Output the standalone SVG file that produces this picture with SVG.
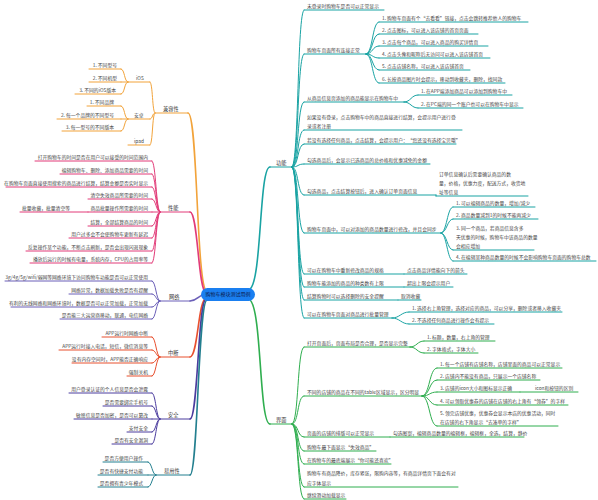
<svg xmlns="http://www.w3.org/2000/svg" width="598" height="500" viewBox="0 0 598 500">
<style>
text{font-family:"Noto Sans CJK SC","Noto Sans",sans-serif;font-size:4.8px;fill:#444}
.r{text-anchor:end}
.L{font-size:5.2px;fill:#333}
.ct{font-size:5px;fill:#0d1b4c;text-anchor:middle}
path{fill:none;stroke-width:1;stroke-linecap:round}
.m{stroke-width:1.6}
.gn{stroke:#19a3a3}
.jm{stroke:#2fae4f}
.jr{stroke:#f2a33a}
.xn{stroke:#e23b78}
.wl{stroke:#6b5fb8}
.zd{stroke:#e8502f}
.aq{stroke:#4b3c9e}
.yy{stroke:#237f8f}
</style>
<rect width="598" height="500" fill="#fff"/>

<g id="connectors">
  <!-- center to main branches -->
  <path class="gn m" d="M250,289 C262,280 259,167 270,167"/>
  <path class="jm m" d="M250,300 C262,310 259,424 270,424"/>
  <path class="jr m" d="M188,113 C198,113 196,288 207,292"/>
  <path class="xn m" d="M190,212 C198,212 198,290 206,293"/>
  <path class="wl m" d="M190,301 C197,301 198,296 203,295"/>
  <path class="zd m" d="M190,357 C198,357 198,300 206,298"/>
  <path class="aq m" d="M190,419 C198,419 198,300 206,299"/>
  <path class="yy m" d="M190,475 C198,475 198,301 207,300"/>
  <!-- 功能 trunk -->
  <path class="gn" d="M292,167 C299,167 297,10 304,10"/>
  <path class="gn" d="M292,167 C299,167 297,54 304,54"/>
  <path class="gn" d="M292,167 C299,167 297,102 304,102"/>
  <path class="gn" d="M292,167 C299,167 297,130 304,130"/>
  <path class="gn" d="M292,167 C299,167 297,144 304,144"/>
  <path class="gn" d="M292,167 C299,167 297,164 304,164"/>
  <path class="gn" d="M292,167 C299,167 297,195 304,195"/>
  <path class="gn" d="M292,167 C299,167 297,233 304,233"/>
  <path class="gn" d="M292,167 C299,167 297,274 304,274"/>
  <path class="gn" d="M292,167 C299,167 297,287 304,287"/>
  <path class="gn" d="M292,167 C299,167 297,300 304,300"/>
  <path class="gn" d="M292,167 C299,167 297,318 304,318"/>
  <!-- 功能 sub brackets -->
  <path class="gn" d="M366,54 C373,54 372,22 379,22"/>
  <path class="gn" d="M366,54 C373,54 372,34 379,34"/>
  <path class="gn" d="M366,54 C373,54 372,46 379,46"/>
  <path class="gn" d="M366,54 C373,54 372,58 379,58"/>
  <path class="gn" d="M366,54 C373,54 372,70 379,70"/>
  <path class="gn" d="M366,54 C373,54 372,83 379,83"/>
  <path class="gn" d="M404,102 C411,102 411,95 418,95"/>
  <path class="gn" d="M404,102 C411,102 411,108 418,108"/>
  <path class="gn" d="M436,195 L436,196"/>
  <path class="gn" d="M441,233 C447,233 447,207 453,207"/>
  <path class="gn" d="M441,233 C447,233 447,219 453,219"/>
  <path class="gn" d="M441,233 C447,233 447,250 453,250"/>
  <path class="gn" d="M441,233 C447,233 447,261 453,261"/>
  <path class="gn" d="M392,318 C400,318 401,312 409,312"/>
  <path class="gn" d="M392,318 C400,318 401,324 409,324"/>
  <!-- 界面 trunk -->
  <path class="jm" d="M292,424 C299,424 297,347 304,347"/>
  <path class="jm" d="M292,424 C299,424 297,396 304,396"/>
  <path class="jm" d="M292,424 C299,424 297,437 304,437"/>
  <path class="jm" d="M292,424 C299,424 297,451 304,451"/>
  <path class="jm" d="M292,424 C299,424 297,464 304,464"/>
  <path class="jm" d="M292,424 C299,424 297,487 304,487"/>
  <path class="jm" d="M292,424 C299,424 297,499 304,499"/>
  <path class="jm" d="M410,347 C417,347 417,341 424,341"/>
  <path class="jm" d="M410,347 C417,347 417,353 424,353"/>
  <path class="jm" d="M422,396 C430,396 429,368 437,368"/>
  <path class="jm" d="M422,396 C430,396 429,380 437,380"/>
  <path class="jm" d="M422,396 C430,396 429,392 437,392"/>
  <path class="jm" d="M422,396 C430,396 429,405 437,405"/>
  <path class="jm" d="M422,396 C430,396 429,426 437,426"/>
  <!-- 兼容性 -->
  <path class="jr" d="M150,82 C153,82 152,113 155,113"/>
  <path class="jr" d="M150,119 C153,119 152,113 155,113"/>
  <path class="jr" d="M150,145 C153,145 152,113 155,113"/>
  <path class="jr" d="M121,69 C125,69 124,82 128,82"/>
  <path class="jr" d="M121,82 L128,82"/>
  <path class="jr" d="M121,94 C125,94 124,82 128,82"/>
  <path class="jr" d="M121,106 C125,106 124,119 128,119"/>
  <path class="jr" d="M121,119 L128,119"/>
  <path class="jr" d="M121,131 C125,131 124,119 128,119"/>
  <!-- 性能 -->
  <path class="xn" d="M152,161 C156,161 156,212 160,212"/>
  <path class="xn" d="M152,174 C156,174 156,212 160,212"/>
  <path class="xn" d="M152,187 C156,187 156,212 160,212"/>
  <path class="xn" d="M152,199 C156,199 156,212 160,212"/>
  <path class="xn" d="M152,212 L160,212"/>
  <path class="xn" d="M152,226 C156,226 156,212 160,212"/>
  <path class="xn" d="M152,238 C156,238 156,212 160,212"/>
  <path class="xn" d="M152,251 C156,251 156,212 160,212"/>
  <path class="xn" d="M152,263 C156,263 156,212 160,212"/>
  <!-- 网络 -->
  <path class="wl" d="M152,281 C156,281 156,301 160,301"/>
  <path class="wl" d="M152,294 C156,294 156,301 160,301"/>
  <path class="wl" d="M152,307 C156,307 156,301 160,301"/>
  <path class="wl" d="M152,319 C156,319 156,301 160,301"/>
  <!-- 中断 -->
  <path class="zd" d="M152,337 C156,337 156,357 160,357"/>
  <path class="zd" d="M152,350 C156,350 156,357 160,357"/>
  <path class="zd" d="M152,363 C156,363 156,357 160,357"/>
  <path class="zd" d="M152,376 C156,376 156,357 160,357"/>
  <!-- 安全 -->
  <path class="aq" d="M152,393 C156,393 156,419 160,419"/>
  <path class="aq" d="M152,406 C156,406 156,419 160,419"/>
  <path class="aq" d="M152,419 L160,419"/>
  <path class="aq" d="M152,432 C156,432 156,419 160,419"/>
  <path class="aq" d="M152,444 C156,444 156,419 160,419"/>
  <!-- 易用性 -->
  <path class="yy" d="M148,462 C152,462 152,475 156,475"/>
  <path class="yy" d="M148,475 L156,475"/>
  <path class="yy" d="M148,487 C152,487 152,475 156,475"/>
</g>

<g id="center">
  <rect x="201" y="288" width="54" height="13" rx="6.5" fill="#1a7ff0"/>
  <text class="ct" x="228" y="296.3">购物车模块测试用例</text>
</g>

<!-- 功能 -->
<g id="gongneng"><text class="L" x="276" y="165">功能</text><path class="gn" d="M270,167H292"/></g>
<g id="g1"><text x="307" y="7.7">未登录时购物车是否可以正常显示</text><path class="gn" d="M304,10H384"/></g>
<g id="g2"><text x="307" y="51.7">购物车页面所有连接正常</text><path class="gn" d="M304,54H366"/></g>
<g id="g2-1"><text x="382" y="19.7">1. 购物车页面有个“去看看”链接，点击会跳转推荐他人的购物车</text><path class="gn" d="M379,22H528"/></g>
<g id="g2-2"><text x="382" y="31.7">2. 点击图标，可以进入该店铺的首页页面</text><path class="gn" d="M379,34H478"/></g>
<g id="g2-3"><text x="382" y="43.7">3. 点击每个商品，可以进入商品的购买详情页</text><path class="gn" d="M379,46H488"/></g>
<g id="g2-4"><text x="382" y="55.7">4. 点击头像和昵称后无访问可以进入该店铺首页</text><path class="gn" d="M379,58H490"/></g>
<g id="g2-5"><text x="382" y="67.7">5. 点击店铺名称，可以进入该店铺首页</text><path class="gn" d="M379,70H470"/></g>
<g id="g2-6"><text x="382" y="80.7">6. 长按商品图片时会提示，移动到收藏夹，删除，找同款</text><path class="gn" d="M379,83H505"/></g>
<g id="g3"><text x="307" y="99.7">从商品信息页添加的商品能显示在购物车中</text><path class="gn" d="M304,102H404"/></g>
<g id="g3-1"><text x="421" y="92.7">1. 在APP端添加商品可以添加到购物车中</text><path class="gn" d="M418,95H512"/></g>
<g id="g3-2"><text x="421" y="105.7">2. 在PC端的同一个账户也可以在购物车中显示</text><path class="gn" d="M418,108H523"/></g>
<g id="g4"><text x="307" y="118.7">如果没有登录，点击购物车中的商品直接进行结算，会提示用户进行登</text><text x="307" y="127.7">录或者注册</text><path class="gn" d="M304,130H462"/></g>
<g id="g5"><text x="307" y="141.7">若没有选择任何商品，点击结算，会提示用户：“您还没有选择宝贝哦”</text><path class="gn" d="M304,144H456"/></g>
<g id="g6"><text x="307" y="161.7">勾选商品后，会显示已选商品的总价格和优惠减免的金额</text><path class="gn" d="M304,164H430"/></g>
<g id="g7"><text x="307" y="192.7">勾选商品，点击结算按钮后，进入确认订单页面信息</text><path class="gn" d="M304,195H436"/></g>
<g id="g7-1"><text x="439" y="175.7">订单信息确认后需要确认商品的数</text><text x="439" y="184.7">量，价格，优惠力度，配送方式，收货地</text><text x="439" y="193.7">址等信息</text><path class="gn" d="M436,196H528"/></g>
<g id="g8"><text x="307" y="230.7">购物车页面中，可以对添加的商品数量进行修改，并且会同步</text><path class="gn" d="M304,233H441"/></g>
<g id="g8-1"><text x="456" y="204.7">1. 可以编辑商品的数量，增加/减少</text><path class="gn" d="M453,207H535"/></g>
<g id="g8-2"><text x="456" y="216.7">2. 商品数量减到1的时候不能再减少</text><path class="gn" d="M453,219H538"/></g>
<g id="g8-3"><text x="456" y="229.7">3. 同一个商品，若商品信息含多</text><text x="456" y="238.7">天优惠的时候，购物车中该商品的数量</text><text x="456" y="247.7">会相应增加</text><path class="gn" d="M453,250H534"/></g>
<g id="g8-4"><text x="456" y="258.7">4. 在编辑某种商品数量的时候不会影响购物车页面的购物车总数</text><path class="gn" d="M453,261H596"/></g>
<g id="g9"><text x="307" y="271.7">可以在购物车中重新修改商品的规格</text><path class="gn" d="M304,274H404"/></g>
<g id="g9-1"><text x="407" y="271.7">点击商品详情能向下的箭头</text><path class="gn" d="M404,274H467"/></g>
<g id="g10"><text x="307" y="284.7">购物车能添加的商品的种类数有上限</text><path class="gn" d="M304,287H404"/></g>
<g id="g10-1"><text x="407" y="284.7">超出上限会提示用户</text><path class="gn" d="M404,287H453"/></g>
<g id="g11"><text x="307" y="297.7">结算购物时可以选择删除的安全提醒</text><path class="gn" d="M304,300H398"/></g>
<g id="g11-1"><text x="401" y="297.7">取消收藏</text><path class="gn" d="M398,300H421"/></g>
<g id="g12"><text x="307" y="315.7">可以在购物车页面对商品进行批量管理</text><path class="gn" d="M304,318H392"/></g>
<g id="g12-1"><text x="412" y="309.7">1. 选择右上角管理，选择对应的商品，可以分享，删除或者移入收藏夹</text><path class="gn" d="M409,312H562"/></g>
<g id="g12-2"><text x="412" y="321.7">2. 不选择任何商品进行操作会有提示</text><path class="gn" d="M409,324H494"/></g>

<!-- 界面 -->
<g id="jiemian"><text class="L" x="276" y="422">界面</text><path class="jm" d="M270,424H292"/></g>
<g id="j1"><text x="307" y="344.7">打开页面后，页面布局是否合理，是否显示完整</text><path class="jm" d="M304,347H410"/></g>
<g id="j1-1"><text x="427" y="338.7">1. 标题，数量，右上角的管理</text><path class="jm" d="M424,341H495"/></g>
<g id="j1-2"><text x="427" y="350.7">2. 字体格式，字体大小</text><path class="jm" d="M424,353H478"/></g>
<g id="j2"><text x="307" y="393.7">不同的店铺的商品在不同的table区域显示，区分明显</text><path class="jm" d="M304,396H422"/></g>
<g id="j2-1"><text x="440" y="365.7">1. 每一个店铺有店铺名称，店铺里面的商品可以正常显示</text><path class="jm" d="M437,368H562"/></g>
<g id="j2-2"><text x="440" y="377.7">2. 店铺内不能没有商品，只展示一个店铺名称</text><path class="jm" d="M437,380H540"/></g>
<g id="j2-3"><text x="440" y="389.7">3. 店铺的icon大小和图标显示正确</text><path class="jm" d="M437,392H520"/></g>
<g id="j2-3-1"><text x="535" y="389.7">icon和按钮的区别</text><path class="jm" d="M520,392H578"/></g>
<g id="j2-4"><text x="440" y="402.7">4. 可以领取优惠券的店铺在店铺的右上角有“领券”的字样</text><path class="jm" d="M437,405H568"/></g>
<g id="j2-5"><text x="440" y="414.7">5. 领完店铺优惠，优惠券会显示本店的优惠活动，同时</text><text x="440" y="423.7">在店铺的右下角显示“去凑单的字样”</text><path class="jm" d="M437,426H558"/></g>
<g id="j3"><text x="307" y="434.7">页面的店铺的排版可以正常显示</text><path class="jm" d="M304,437H390"/></g>
<g id="j3-1"><text x="393" y="434.7">勾选图案，编辑商品数量的编辑框，编辑框，全选，结算，静价</text><path class="jm" d="M390,437H524"/></g>
<g id="j4"><text x="307" y="448.7">购物车最下面显示“失效商品”</text><path class="jm" d="M304,451H376"/></g>
<g id="j5"><text x="307" y="461.7">在购物车的最底端展示“你可能还喜欢”</text><path class="jm" d="M304,464H391"/></g>
<g id="j6"><text x="307" y="474.7">购物车有商品降价，库存紧张，限购内容等，有商品详情页下面会有对</text><text x="307" y="484.7">应字体显示</text><path class="jm" d="M304,487H458"/></g>
<g id="j7"><text x="307" y="496.7">继续滑动加载显示</text><path class="jm" d="M304,499H346"/></g>

<!-- 兼容性 -->
<g id="jianrong"><text class="L" x="163" y="110.7">兼容性</text><path class="jr" d="M155,113H188"/></g>
<g id="ios"><text x="136" y="79.7">iOS</text><path class="jr" d="M128,82H150"/></g>
<g id="ios-1"><text class="r" x="117" y="66.7">1. 不同型号</text><path class="jr" d="M89,69H121"/></g>
<g id="ios-2"><text class="r" x="117" y="79.7">2. 不同机型</text><path class="jr" d="M89,82H121"/></g>
<g id="ios-3"><text class="r" x="116" y="91.7">3. 不同的iOS版本</text><path class="jr" d="M75,94H121"/></g>
<g id="android"><text x="134" y="116.7">安卓</text><path class="jr" d="M128,119H150"/></g>
<g id="an-1"><text class="r" x="114" y="103.7">1. 不同品牌</text><path class="jr" d="M87,106H121"/></g>
<g id="an-2"><text class="r" x="114" y="116.7">2. 每一个品牌的不同型号</text><path class="jr" d="M57,119H121"/></g>
<g id="an-3"><text class="r" x="114" y="128.7">3. 每一型号的不同版本</text><path class="jr" d="M62,131H121"/></g>
<g id="ipad"><text x="134" y="142.7">ipad</text><path class="jr" d="M128,145H150"/></g>

<!-- 性能 -->
<g id="xingneng"><text class="L" x="168" y="209.7">性能</text><path class="xn" d="M160,212H190"/></g>
<g id="x1"><text class="r" x="148" y="158.7">打开购物车的时间是否在用户可以接受的时间范围内</text><path class="xn" d="M35,161H152"/></g>
<g id="x2"><text class="r" x="148" y="171.7">编辑购物车、删除、添加商品需要的时间</text><path class="xn" d="M60,174H152"/></g>
<g id="x3"><text class="r" x="148" y="184.7">在购物车页面直接使用搜索的商品进行结算，结算金额是否实时显示</text><path class="xn" d="M6,187H152"/></g>
<g id="x4"><text class="r" x="148" y="196.7">清空失效商品所需要的时间</text><path class="xn" d="M88,199H152"/></g>
<g id="x5"><text class="r" x="148" y="209.7">商品批量操作所需要的时间</text><path class="xn" d="M88,212H152"/></g>
<g id="x5-1"><text x="22" y="209.7">批量收藏，批量清空等</text><path class="xn" d="M20,212H88"/></g>
<g id="x6"><text class="r" x="148" y="223.7">结算，全部结算商品的时间</text><path class="xn" d="M88,226H152"/></g>
<g id="x7"><text class="r" x="148" y="235.7">用户过多会不会使购物车更新有延迟</text><path class="xn" d="M69,238H152"/></g>
<g id="x8"><text class="r" x="148" y="248.7">反复操作某个功能，不断点击刷新，是否会出现闪退现象</text><path class="xn" d="M26,251H152"/></g>
<g id="x9"><text class="r" x="148" y="260.7">播放后运行的时候有电量，系统内存，CPU的占用率等</text><path class="xn" d="M30,263H152"/></g>

<!-- 网络 -->
<g id="wangluo"><text class="L" x="169" y="298.7">网络</text><path class="wl" d="M160,301H190"/></g>
<g id="w1"><text class="r" x="148" y="278.7">3g/4g/5g/wifi/弱网等网络环境下访问购物车功能是否可以正常使用</text><path class="wl" d="M5,281H152"/></g>
<g id="w2"><text class="r" x="148" y="291.7">网络异常，数据加载失败是否有提醒</text><path class="wl" d="M69,294H152"/></g>
<g id="w3"><text class="r" x="148" y="304.7">有利的无线网络和网络环境时，数据是否可以正常加载，正常加载</text><path class="wl" d="M11,307H152"/></g>
<g id="w4"><text class="r" x="148" y="316.7">是否能三大运营商移动，联通，电信网络</text><path class="wl" d="M60,319H152"/></g>

<!-- 中断 -->
<g id="zhongduan"><text class="L" x="168" y="354.7">中断</text><path class="zd" d="M160,357H190"/></g>
<g id="z1"><text class="r" x="148" y="334.7">APP运行时网络中断</text><path class="zd" d="M102,337H152"/></g>
<g id="z2"><text class="r" x="148" y="347.7">APP运行时接入电话，短信，微信消息等</text><path class="zd" d="M59,350H152"/></g>
<g id="z3"><text class="r" x="148" y="360.7">没有内存空间时，APP能否正确响应</text><path class="zd" d="M72,363H152"/></g>
<g id="z4"><text class="r" x="148" y="373.7">强制关机</text><path class="zd" d="M127,376H152"/></g>

<!-- 安全 -->
<g id="anquan"><text class="L" x="168" y="416.7">安全</text><path class="aq" d="M160,419H190"/></g>
<g id="a1"><text class="r" x="148" y="390.7">用户登录认证的个人信息是否会泄露</text><path class="aq" d="M69,393H152"/></g>
<g id="a2"><text class="r" x="148" y="403.7">是否需要绑定手机号</text><path class="aq" d="M103,406H152"/></g>
<g id="a3"><text class="r" x="148" y="416.7">敏感信息是否加密，是否可以篡改</text><path class="aq" d="M74,419H152"/></g>
<g id="a4"><text class="r" x="148" y="429.7">支付安全</text><path class="aq" d="M127,432H152"/></g>
<g id="a5"><text class="r" x="148" y="441.7">是否有安全漏洞</text><path class="aq" d="M112,444H152"/></g>

<!-- 易用性 -->
<g id="yiyong"><text class="L" x="164" y="472.7">易用性</text><path class="yy" d="M156,475H190"/></g>
<g id="y1"><text class="r" x="143" y="459.7">是否方便用户操作</text><path class="yy" d="M103,462H148"/></g>
<g id="y2"><text class="r" x="143" y="472.7">是否有快捷支付功能</text><path class="yy" d="M98,475H148"/></g>
<g id="y3"><text class="r" x="143" y="484.7">是否拥有青少年模式</text><path class="yy" d="M98,487H148"/></g>
</svg>
